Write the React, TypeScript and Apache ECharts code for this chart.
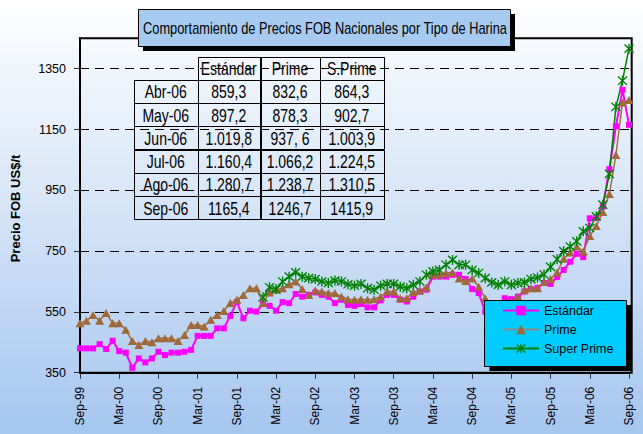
import React, { useEffect, useRef } from 'react';
import * as echarts from 'echarts';

const monthNames = ['Jan', 'Feb', 'Mar', 'Apr', 'May', 'Jun', 'Jul', 'Aug', 'Sep', 'Oct', 'Nov', 'Dec'];
// Sep-99 ... Sep-06 (85 monthly categories)
const categories: string[] = [];
for (let k = 0; k < 85; k++) {
  const m = (8 + k) % 12;
  const y = 1999 + Math.floor((8 + k) / 12);
  categories.push(`${monthNames[m]}-${String(y % 100).padStart(2, '0')}`);
}

const estandar = [
  430, 430, 430, 444, 428, 455, 421, 416, 366, 397, 384, 397, 419, 408, 416, 416, 419, 425, 471, 471, 471, 496, 496, 537, 583,
  529, 554, 551, 576, 570, 554, 582, 579, 609, 600, 606, 614, 606, 600, 579, 590, 573, 570, 576, 565, 565, 588, 606, 606,
  590, 584, 600, 617, 623, 666, 666, 666, 672, 672, 658, 625, 612, 551,
  545, 560, 595, 592, 600, 617, 625, 629, 645, 642, 665, 688, 715, 741, 730, 858,
  859.3, 897.2, 1019.8, 1160.4, 1280.7, 1165.4,
];

const prime = [
  513, 521, 540, 521, 546, 513, 513, 491, 454, 441, 454, 450, 463, 463, 463, 454, 474, 507, 507, 502, 524, 540, 553, 579, 590,
  606, 628, 628, 579, 614, 623, 628, 641, 650, 625, 606, 620, 617, 612, 612, 600, 592, 590, 592, 590, 592, 600, 617, 617,
  595, 595, 615, 620, 630, 673, 673, 678, 680, 660, 652, 660, 633, 595,
  570, 570, 575, 584, 600, 623, 628, 628, 648, 658, 680, 725, 745, 765, 749, 800,
  832.6, 878.3, 937.6, 1066.2, 1238.7, 1246.7,
];

const superPrime: (number | null)[] = [
  null, null, null, null, null, null, null, null, null, null, null, null, null, null,
  null, null, null, null, null, null, null, null, null, null, null, null, null, null,
  598, 631, 625, 650, 666, 680, 666, 661, 658, 650, 645, 653, 650, 641, 636, 642, 628, 623, 636, 642, 642,
  633, 628, 639, 650, 672, 683, 688, 705, 721, 705, 705, 688, 678, 661,
  647, 639, 650, 639, 645, 647, 658, 663, 673, 698, 723, 750, 765, 782, 815, 826,
  864.3, 902.7, 1003.9, 1224.5, 1310.5, 1415.9,
];

const yMin = 350;
const yMax = 1450;
const yStep = 200;

const titleText = 'Comportamiento de Precios FOB Nacionales por Tipo de Harina';
const yAxisTitle = 'Precio FOB US$/t';
const seriesNames = ['Estándar', 'Prime', 'Super Prime'];

const tableHeaders = ['Estándar', 'Prime', 'S.Prime'];
const tableRowLabels = ['Abr-06', 'May-06', 'Jun-06', 'Jul-06', 'Ago-06', 'Sep-06'];
const tableEstandar = ['859,3', '897,2', '1.019,8', '1.160,4', '1.280,7', '1165,4'];
const tablePrime = ['832,6', '878,3', '937, 6', '1.066,2', '1.238,7', '1246,7'];
const tableSuperPrime = ['864,3', '902,7', '1.003,9', '1.224,5', '1.310,5', '1415,9'];

const SANS = "'Liberation Sans', Arial, Helvetica, sans-serif";

const STAR =
  'path://M4.35,0H5.65V10H4.35Z M1.3,0.4L9.6,8.7L8.7,9.6L0.4,1.3Z M8.7,0.4L9.6,1.3L1.3,9.6L0.4,8.7Z';

function buildTable(): any[] {
  const xs = [134, 197.5, 260, 320, 383.5];
  const y0 = 56.5;
  const rh = 23.25;
  const els: any[] = [];
  const cell = (x: number, y: number, w: number, h: number, text: string) => {
    els.push({
      type: 'rect',
      z: 5,
      shape: { x: Math.round(x) + 0.5, y: Math.round(y) + 0.5, width: Math.round(w), height: Math.round(h) },
      style: { fill: 'none', stroke: '#000', lineWidth: 1 },
    });
    els.push({
      type: 'text',
      z: 6,
      x: x + w / 2,
      y: y + h / 2 + 1,
      scaleX: 0.8,
      style: {
        text,
        fill: '#000',
        fontSize: 17.5,
        fontFamily: SANS,
        align: 'center',
        verticalAlign: 'middle',
      },
    });
  };
  tableHeaders.forEach((h, c) => cell(xs[c + 1], y0, xs[c + 2] - xs[c + 1], rh, h));
  const cols = [tableRowLabels, tableEstandar, tablePrime, tableSuperPrime];
  tableRowLabels.forEach((_, r) => {
    cols.forEach((col, c) => cell(xs[c], y0 + (r + 1) * rh, xs[c + 1] - xs[c], rh, col[r]));
  });
  return els;
}

export default function App() {
  const ref = useRef<HTMLDivElement>(null);
  useEffect(() => {
    const chart = echarts.init(ref.current!, null, { renderer: 'svg' });
    const option: any = {
      animation: false,
      grid: { left: 80, top: 38.3, width: 549, height: 334.4, outerBoundsMode: 'none', containLabel: false },
      xAxis: {
        type: 'category',
        data: categories,
        boundaryGap: false,
        axisLine: { lineStyle: { color: '#000', width: 2 } },
        axisTick: { interval: 5, length: 6, lineStyle: { color: '#333', width: 1 } },
        axisLabel: {
          interval: 5,
          rotate: 90,
          margin: 14,
          color: '#000',
          fontSize: 12,
          fontFamily: SANS,
        },
        splitLine: { show: false },
      },
      yAxis: {
        type: 'value',
        min: yMin,
        max: yMax,
        interval: yStep,
        axisLine: { show: true, lineStyle: { color: '#000', width: 2 } },
        axisTick: { show: true, length: 6, lineStyle: { color: '#333', width: 1 } },
        axisLabel: {
          margin: 14,
          color: '#000',
          fontSize: 12.5,
          fontFamily: SANS,
          showMaxLabel: false,
          formatter: (v: number) => (v >= yMax ? '' : String(v)),
        },
        splitLine: { show: true, lineStyle: { color: '#000', width: 1, type: [9, 6] } },
      },
      legend: {
        orient: 'vertical',
        left: 502,
        top: 304,
        itemWidth: 36,
        itemHeight: 12,
        itemGap: 6,
        padding: 0,
        z: 8,
        textStyle: { color: '#000', fontSize: 12.5, fontFamily: SANS },
        data: [
          { name: seriesNames[0] },
          { name: seriesNames[1], lineStyle: { color: '#8a8a8a' } },
          { name: seriesNames[2] },
        ],
      },
      series: [
        {
          name: seriesNames[0],
          type: 'line',
          data: estandar,
          symbol: 'rect',
          symbolSize: 6,
          showAllSymbol: true,
          lineStyle: { color: '#FF00FF', width: 2 },
          itemStyle: { color: '#FF00FF' },
          z: 2,
        },
        {
          name: seriesNames[1],
          type: 'line',
          data: prime,
          symbol: 'triangle',
          symbolSize: [9, 8],
          showAllSymbol: true,
          lineStyle: { color: '#A07040', width: 1.5 },
          itemStyle: { color: '#A0693A' },
          z: 2,
        },
        {
          name: seriesNames[2],
          type: 'line',
          data: superPrime,
          symbol: STAR,
          symbolSize: 10,
          showAllSymbol: true,
          connectNulls: false,
          lineStyle: { color: '#008000', width: 1.5 },
          itemStyle: { color: '#008000' },
          z: 2,
        },
      ],
      graphic: [
        // plot frame
        {
          type: 'rect',
          z: 1,
          shape: { x: 80, y: 38.3, width: 551.7, height: 334.4 },
          style: { fill: 'none', stroke: '#000', lineWidth: 2 },
        },
        // title shadow + box
        {
          type: 'rect',
          z: 10,
          shape: { x: 143, y: 14, width: 372, height: 37 },
          style: { fill: '#000' },
        },
        {
          type: 'rect',
          z: 11,
          shape: { x: 138.5, y: 9.5, width: 372, height: 37 },
          style: { fill: '#A6CAF0', stroke: '#000', lineWidth: 1 },
        },
        {
          type: 'text',
          z: 12,
          x: 325,
          y: 28.5,
          scaleX: 0.8,
          style: {
            text: titleText,
            fill: '#000',
            fontSize: 16,
            fontFamily: SANS,
            align: 'center',
            verticalAlign: 'middle',
          },
        },
        // y axis title
        {
          type: 'text',
          z: 12,
          x: 15,
          y: 208.5,
          rotation: Math.PI / 2,
          style: {
            text: yAxisTitle,
            fill: '#000',
            fontSize: 13,
            fontWeight: 'bold',
            fontFamily: SANS,
            align: 'center',
            verticalAlign: 'middle',
          },
        },
        // legend shadow + box
        {
          type: 'rect',
          z: 3,
          shape: { x: 489.5, y: 305, width: 142, height: 66 },
          style: { fill: '#000' },
        },
        {
          type: 'rect',
          z: 3,
          shape: { x: 484.5, y: 300.5, width: 142, height: 66 },
          style: { fill: '#00CCFF', stroke: '#000', lineWidth: 1 },
        },
        ...buildTable(),
      ],
    };
    chart.setOption(option);
    return () => chart.dispose();
  }, []);
  return (
    <div
      ref={ref}
      style={{
        position: 'fixed',
        left: 0,
        top: 0,
        width: 643,
        height: 434,
        background: 'linear-gradient(to bottom, #ffffff 0%, #d8e6f8 45%, #a6c6ee 100%)',
      }}
    />
  );
}
